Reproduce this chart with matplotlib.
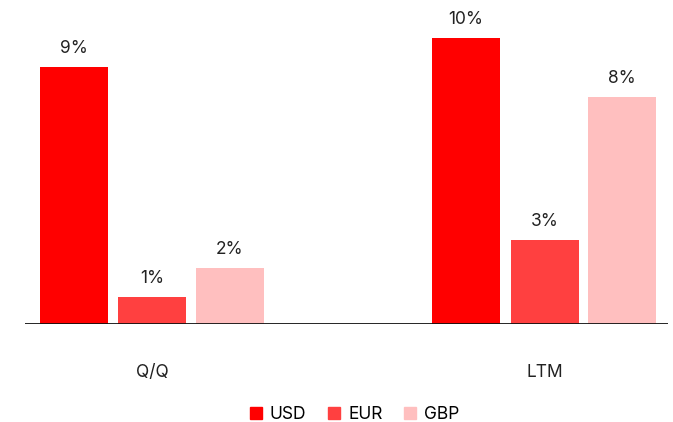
import numpy as np
import matplotlib.pyplot as plt
from matplotlib.patches import Patch

plt.rcParams['font.family'] = ['Inter', 'DejaVu Sans']

categories = ['Q/Q', 'LTM']
series = ['USD', 'EUR', 'GBP']
usd = [9.0, 10.0]
eur = [0.95, 2.95]
gbp = [1.95, 7.95]
labels = {'USD': ['9%', '10%'], 'EUR': ['1%', '3%'], 'GBP': ['2%', '8%']}
colors = {'USD': '#ff0000', 'EUR': '#ff4040', 'GBP': '#ffbfbf'}

fig = plt.figure(figsize=(6.73, 4.22), dpi=100)
ax = fig.add_axes([25 / 673, 0.2322, 643 / 673, 0.7455])

x = np.arange(len(categories))
bw = 0.173
offsets = [-0.2, 0.0, 0.198]
for name, vals, off in zip(series, [usd, eur, gbp], offsets):
    bars = ax.bar(x + off, vals, bw, color=colors[name], zorder=2)
    for b, lab in zip(bars, labels[name]):
        ax.annotate(lab, (b.get_x() + b.get_width() / 2, b.get_height()),
                    xytext=(0, 10), textcoords='offset pixels',
                    ha='center', va='bottom', fontsize=12.5, color='#222222')

ax.set_xlim(-0.3245, 1.3145)
ax.set_ylim(0, 11)
ax.axhline(0, color='#111111', linewidth=2, zorder=3)
for s in ax.spines.values():
    s.set_visible(False)
ax.set_yticks([])
ax.set_xticks(x)
ax.set_xticklabels(categories, fontsize=12.5, color='#222222')
ax.tick_params(axis='x', length=0, pad=29)

handles = [Patch(color=colors[n], label=n) for n in series]
fig.legend(handles=handles, loc='center', bbox_to_anchor=(0.527, 0.017),
           ncol=3, frameon=False, fontsize=12.5, handlelength=0.7, handleheight=0.7,
           handletextpad=0.45, columnspacing=1.25, borderaxespad=0)

fig.savefig('out.png', dpi=100)
